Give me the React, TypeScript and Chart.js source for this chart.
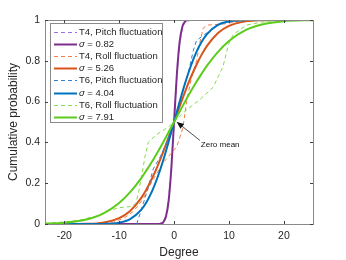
import React, { useEffect, useRef } from 'react';
import { Chart, registerables } from 'chart.js';

Chart.register(...registerables);

// ---- data ----
const X_TICKS = [-20, -10, 0, 10, 20];
const Y_TICKS = [0, 0.2, 0.4, 0.6, 0.8, 1];
const X_MIN = -23.5;
const X_MAX = 25.3;

// fitted (solid) curves
const FIT_X = [-24, -20, -16, -13, -10, -8, -6, -5, -4, -3, -2, -1, 0, 1, 2, 3, 4, 5, 6, 8, 10, 13, 16, 20, 25.3];
const FIT_S791 = [0.0012, 0.0057, 0.022, 0.05, 0.103, 0.156, 0.224, 0.264, 0.306, 0.352, 0.4, 0.45, 0.5, 0.55, 0.6, 0.648, 0.694, 0.736, 0.776, 0.844, 0.897, 0.95, 0.978, 0.9943, 0.9993];
const FIT_S526 = [0, 0.0001, 0.0012, 0.0067, 0.029, 0.064, 0.127, 0.171, 0.224, 0.284, 0.352, 0.425, 0.5, 0.575, 0.648, 0.716, 0.776, 0.829, 0.873, 0.936, 0.971, 0.9933, 0.9988, 0.9999, 1];
const FIT_S404 = [0, 0, 0, 0.0006, 0.0067, 0.024, 0.069, 0.108, 0.161, 0.229, 0.31, 0.402, 0.5, 0.598, 0.69, 0.771, 0.839, 0.892, 0.931, 0.976, 0.9933, 0.9994, 1, 1, 1];
const FIT082_X = [-24, -3, -2.5, -2, -1.5, -1, -0.5, 0, 0.5, 1, 1.5, 2, 2.5, 3, 25.3];
const FIT_S082 = [0, 0.0001, 0.0011, 0.0073, 0.034, 0.111, 0.271, 0.5, 0.729, 0.889, 0.966, 0.9927, 0.9989, 0.9999, 1];

// empirical (dashed) curves
const T4P_X = [-2.8, -2, -1.5, -1, -0.5, 0, 0.5, 1, 1.5, 2, 2.8];
const T4P_Y = [0, 0.01, 0.04, 0.12, 0.28, 0.5, 0.72, 0.88, 0.96, 0.99, 1];
const T4R_X = [-14, -11, -9, -7.5, -6.5, -5.5, -4.4, -3.1, -2, -0.4, 0.5, 1.6, 2.4, 3.2, 4.1, 4.7, 5.3, 6, 9, 11, 13];
const T4R_Y = [0, 0.01, 0.03, 0.06, 0.09, 0.13, 0.19, 0.25, 0.3, 0.35, 0.38, 0.47, 0.62, 0.72, 0.8, 0.89, 0.96, 0.975, 0.98, 0.99, 1];
const T6P_X = [-6.8, -6.2, -5.6, -4.5, -3.8, -2.5, -1.5, -0.5, 0.5, 1.5, 2.5, 3.5, 4.1, 5.6, 7.2, 8.4, 10, 12];
const T6P_Y = [0, 0.05, 0.1, 0.2, 0.27, 0.33, 0.39, 0.46, 0.55, 0.64, 0.73, 0.85, 0.9, 0.93, 0.96, 0.985, 0.99, 1];
const T6R_X = [-23.5, -20, -17, -14, -12, -10, -8, -7, -6.5, -5.8, -5.3, -4.7, -3.1, -1.3, 0, 2.3, 4.7, 7.1, 8.9, 9.9, 10.8, 13.2, 16, 19];
const T6R_Y = [0.003, 0.01, 0.02, 0.04, 0.065, 0.08, 0.085, 0.1, 0.15, 0.25, 0.33, 0.4, 0.44, 0.47, 0.5, 0.56, 0.61, 0.67, 0.77, 0.88, 0.93, 0.975, 0.99, 1];

const LABELS = [
  'T4, Pitch fluctuation', 'σ = 0.82',
  'T4, Roll fluctuation', 'σ = 5.26',
  'T6, Pitch fluctuation', 'σ = 4.04',
  'T6, Roll fluctuation', 'σ = 7.91',
];

const SERIES: { xs: number[]; ys: number[]; color: string; dashed: boolean }[] = [
  { xs: T4P_X, ys: T4P_Y, color: '#a06ee0', dashed: true },
  { xs: FIT082_X, ys: FIT_S082, color: '#7e2f8e', dashed: false },
  { xs: T4R_X, ys: T4R_Y, color: '#f07f48', dashed: true },
  { xs: FIT_X, ys: FIT_S526, color: '#d95319', dashed: false },
  { xs: T6P_X, ys: T6P_Y, color: '#2f82cf', dashed: true },
  { xs: FIT_X, ys: FIT_S404, color: '#0072bd', dashed: false },
  { xs: T6R_X, ys: T6R_Y, color: '#86d950', dashed: true },
  { xs: FIT_X, ys: FIT_S791, color: '#5bcc1c', dashed: false },
];

const FONT = '"Liberation Sans", Arial, Helvetica, sans-serif';
const TEXT = '#262626';

const overlay = {
  id: 'overlay',
  afterDatasetsDraw(chart: any) {
    const ctx = chart.ctx as CanvasRenderingContext2D;
    const { left, right, top, bottom } = chart.chartArea;
    const xs = chart.scales.x;
    const ys = chart.scales.y;
    ctx.save();
    // box
    ctx.strokeStyle = '#8a8a8a';
    ctx.lineWidth = 1;
    ctx.strokeRect(Math.round(left) + 0.5, Math.round(top) + 0.5, Math.round(right - left), Math.round(bottom - top));
    // inner ticks
    ctx.strokeStyle = '#404040';
    ctx.beginPath();
    X_TICKS.forEach((v) => {
      const px = Math.round(xs.getPixelForValue(v)) + 0.5;
      ctx.moveTo(px, bottom); ctx.lineTo(px, bottom - 3);
      ctx.moveTo(px, top); ctx.lineTo(px, top + 3);
    });
    Y_TICKS.forEach((v) => {
      const py = Math.round(ys.getPixelForValue(v)) + 0.5;
      ctx.moveTo(left, py); ctx.lineTo(left + 3, py);
      ctx.moveTo(right, py); ctx.lineTo(right - 3, py);
    });
    ctx.stroke();

    // annotation arrow
    const tipX = xs.getPixelForValue(0.5);
    const tipY = ys.getPixelForValue(0.5);
    const tailX = xs.getPixelForValue(4.7);
    const tailY = ys.getPixelForValue(0.41);
    ctx.strokeStyle = '#222';
    ctx.lineWidth = 0.8;
    ctx.beginPath();
    ctx.moveTo(tailX, tailY);
    ctx.lineTo(tipX, tipY);
    ctx.stroke();
    const ang = Math.atan2(tipY - tailY, tipX - tailX);
    const hl = 7, hw = 3;
    ctx.fillStyle = '#111';
    ctx.beginPath();
    ctx.moveTo(tipX, tipY);
    ctx.lineTo(tipX - hl * Math.cos(ang) + hw * Math.sin(ang), tipY - hl * Math.sin(ang) - hw * Math.cos(ang));
    ctx.lineTo(tipX - hl * Math.cos(ang) - hw * Math.sin(ang), tipY - hl * Math.sin(ang) + hw * Math.cos(ang));
    ctx.closePath();
    ctx.fill();
    ctx.font = `8px ${FONT}`;
    ctx.fillStyle = '#111';
    ctx.textAlign = 'left';
    ctx.textBaseline = 'middle';
    ctx.fillText('Zero mean', tailX + 1, tailY + 4);

    // legend
    const lx = left + 5, ly = top + 3, lw = 112, lh = 99;
    ctx.fillStyle = '#fff';
    ctx.fillRect(lx, ly, lw, lh);
    ctx.strokeStyle = '#8a8a8a';
    ctx.lineWidth = 1;
    ctx.strokeRect(Math.round(lx) + 0.5, Math.round(ly) + 0.5, lw, lh);
    const rowH = 12.1;
    SERIES.forEach((s, i) => {
      const cy = Math.round(ly + 9 + i * rowH) + 0.5;
      ctx.strokeStyle = s.color;
      ctx.lineWidth = s.dashed ? 1 : 2;
      ctx.setLineDash(s.dashed ? [4, 3] : []);
      ctx.beginPath();
      ctx.moveTo(lx + 4, cy);
      ctx.lineTo(lx + 27, cy);
      ctx.stroke();
      ctx.setLineDash([]);
      ctx.fillStyle = TEXT;
      ctx.textBaseline = 'middle';
      const label = LABELS[i];
      let tx = lx + 29;
      if (label.startsWith('σ')) {
        ctx.font = `italic 9.5px ${FONT}`;
        ctx.fillText('σ', tx, cy);
        tx += ctx.measureText('σ').width;
        ctx.font = `9.5px ${FONT}`;
        ctx.fillText(label.slice(1), tx, cy);
      } else {
        ctx.font = `9.5px ${FONT}`;
        ctx.fillText(label, tx, cy);
      }
    });
    ctx.restore();
  },
};

export default function App() {
  const ref = useRef<HTMLCanvasElement | null>(null);
  useEffect(() => {
    document.body.style.margin = '0';
    const canvas = ref.current!;
    const datasets = SERIES.map((s, i) => ({
      label: LABELS[i],
      data: s.xs.map((x, k) => ({ x, y: s.ys[k] })),
      borderColor: s.color,
      backgroundColor: s.color,
      borderWidth: s.dashed ? 1 : 2,
      borderDash: s.dashed ? [4, 3] : [],
      pointRadius: 0,
      fill: false,
      tension: 0,
      cubicInterpolationMode: s.dashed ? 'default' : 'monotone',
      order: SERIES.length - i,
    }));
    const chart = new Chart(canvas, {
      type: 'line',
      data: { datasets: datasets as any },
      options: {
        animation: false,
        responsive: false,
        devicePixelRatio: 1,
        layout: { padding: { top: 20, right: 33, left: 0, bottom: 0 } },
        plugins: { legend: { display: false }, tooltip: { enabled: false } },
        scales: {
          x: {
            type: 'linear',
            min: X_MIN,
            max: X_MAX,
            afterBuildTicks: (sc: any) => { sc.ticks = X_TICKS.map((v) => ({ value: v })); },
            afterFit: (sc: any) => { sc.height = 36; },
            grid: { display: false, drawTicks: false },
            border: { display: false },
            ticks: { color: TEXT, font: { family: FONT, size: 10.5 }, padding: 6, maxRotation: 0 },
            title: { display: true, text: 'Degree', color: TEXT, font: { family: FONT, size: 12 }, padding: { top: 0, bottom: 0 } },
          },
          y: {
            type: 'linear',
            min: 0,
            max: 1,
            afterBuildTicks: (sc: any) => { sc.ticks = Y_TICKS.map((v) => ({ value: v })); },
            afterFit: (sc: any) => { sc.width = 45; },
            grid: { display: false, drawTicks: false },
            border: { display: false },
            ticks: { color: TEXT, font: { family: FONT, size: 10.5 }, padding: 5, callback: (v: any) => String(Math.round(v * 10) / 10) },
            title: { display: true, text: 'Cumulative probability', color: TEXT, font: { family: FONT, size: 12 }, padding: { top: 6, bottom: 0 } },
          },
        },
      },
      plugins: [overlay],
    });
    return () => chart.destroy();
  }, []);
  return <canvas ref={ref} width={346} height={260} style={{ display: 'block', width: 346, height: 260 }} />;
}
